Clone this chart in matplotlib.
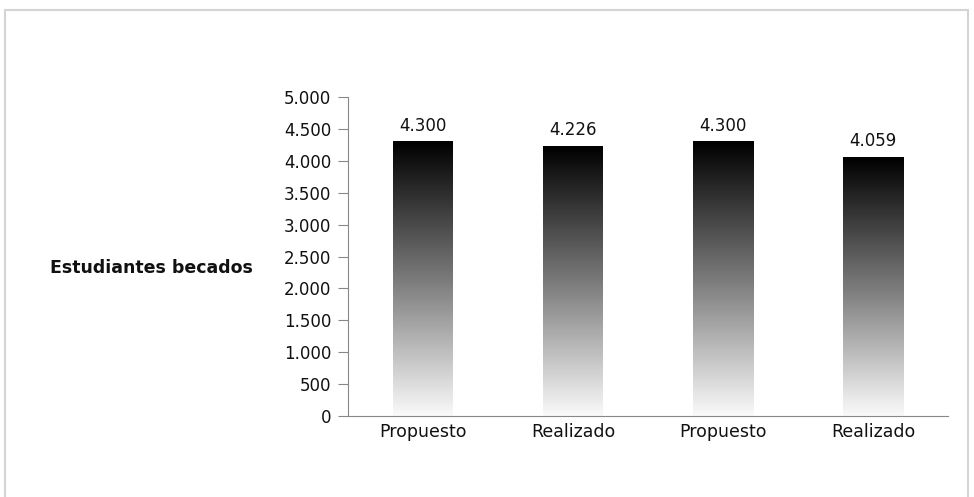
import numpy as np
import matplotlib.pyplot as plt
from matplotlib.colors import LinearSegmentedColormap
from matplotlib.patches import Rectangle

categories = ['Propuesto', 'Realizado', 'Propuesto', 'Realizado']
values = [4300, 4226, 4300, 4059]
value_labels = ['4.300', '4.226', '4.300', '4.059']
y_ticks = [0, 500, 1000, 1500, 2000, 2500, 3000, 3500, 4000, 4500, 5000]
y_tick_labels = ['0', '500', '1.000', '1.500', '2.000', '2.500', '3.000',
                 '3.500', '4.000', '4.500', '5.000']

plt.rcParams['font.family'] = ['DejaVu Sans']

fig = plt.figure(figsize=(9.74, 4.97), dpi=100)
fig.patches.append(Rectangle((5 / 974, -0.1), 963 / 974, 1 - 10 / 497 + 0.1,
                             transform=fig.transFigure, fill=False,
                             edgecolor='#d4d4d4', linewidth=1.5))

ax = fig.add_axes([348 / 974, 1 - 416 / 497, 600 / 974, 319 / 497])

cmap = LinearSegmentedColormap.from_list('bw', ['#000000', '#7a7a7a', '#fafafa'])
grad = np.linspace(0, 1, 256).reshape(-1, 1)
x = np.arange(len(categories))
w = 0.4
for xi, v, lab in zip(x, values, value_labels):
    ax.imshow(grad, cmap=cmap, aspect='auto', extent=(xi - w / 2, xi + w / 2, 0, v),
              origin='upper', zorder=2)
    ax.text(xi, v + 110, lab, ha='center', va='bottom', fontsize=12, color='#111111')

ax.set_xlim(-0.5, len(categories) - 0.5)
ax.set_ylim(0, 5000)
ax.set_xticks(x)
ax.set_xticklabels(categories, fontsize=12.5, color='#111111')
ax.set_yticks(y_ticks)
ax.set_yticklabels(y_tick_labels, fontsize=12, color='#111111')
ax.tick_params(axis='x', length=0, pad=5)
ax.tick_params(axis='y', length=7, color='#888888', pad=5)
for s in ['top', 'right']:
    ax.spines[s].set_visible(False)
for s in ['left', 'bottom']:
    ax.spines[s].set_color('#888888')
    ax.spines[s].set_zorder(4)
ax.set_ylabel('Estudiantes becados', fontsize=12.5, fontweight='bold',
              rotation=0, ha='right', va='center', color='#111111')
ax.yaxis.set_label_coords(-95 / 600, (416 - 268) / 319)

fig.savefig('out.png', dpi=100)
